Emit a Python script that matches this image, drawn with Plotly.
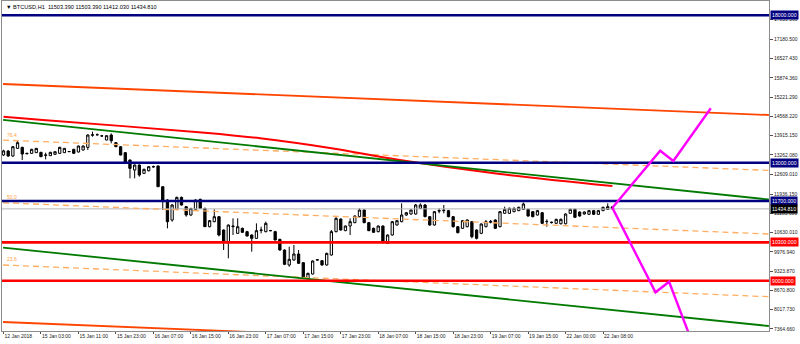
import plotly.graph_objects as go

# ---------------- data ----------------
bar_idx = list(range(131))

opens = [13260,13396,13226,13486,13520,13300,13317,13340,13351,13250,
         13238,13283,13317,13340,13373,13453,13362,13430,13520,13930,
         13945,13910,13769,13938,13679,13543,13340,13091,12752,12921,
         12639,12729,12860,12890,12187,11735,11057,11419,11825,11509,
         11227,11419,11758,11440,10831,11001,11170,10718,10289,10831,
         10605,10775,10662,10549,10436,10718,10662,10700,10662,10402,
         10040,9532,9701,9905,9611,9080,9227,9700,9679,9532,
         9871,10662,11091,10696,10854,10967,11170,11397,10967,10775,
         10662,10854,10266,10549,10888,11001,11227,11261,11261,11453,
         11566,11171,10888,11360,11374,11374,11171,10831,10775,10831,
         11001,10718,10605,10831,10980,11058,10831,11284,11284,11340,
         11374,11419,11419,11340,11227,11306,11001,10967,10944,10930,
         10930,11284,11419,11329,11261,11250,11374,11250,11374,11419,
         11503.39]
highs = [13440,13430,13560,13735,13540,13330,13470,13500,13370,13340,
         13370,13380,13540,13500,13390,13470,13580,13580,13960,14052,
         13990,13920,13930,13995,13700,13560,13360,13110,12940,12940,
         12800,12880,12900,12900,12200,11760,11600,11850,11850,11530,
         11460,11760,11780,11480,11060,11419,11190,10740,10900,11114,
         11114,10800,10690,10570,10944,10831,11001,10720,10690,10420,
         10060,10153,10210,10040,9630,9270,9690,9730,9700,9950,
         10718,11150,11110,10870,11114,11210,11453,11420,10990,10800,
         10870,10870,10570,11020,11050,11622,11330,11420,11600,11622,
         11600,11190,11360,11453,11566,11400,11190,10850,11060,11080,
         11020,10740,10944,11058,11058,11080,11360,11510,11480,11487,
         11510,11645,11440,11360,11400,11330,11080,11000,11100,11110,
         11280,11440,11440,11350,11350,11400,11400,11400,11510,11622,
         11503.39]
lows = [13230,13200,13200,13470,13091,13290,13300,13330,13190,13113,
        13230,13270,13300,13330,13360,13300,13350,13420,13430,13882,
        13920,13900,13760,13656,13530,13250,12990,12470,12470,12526,
        12620,12700,12830,12187,11396,10775,11000,11400,11550,11170,
        11200,11400,11430,10820,10810,10980,10500,10040,9758,10549,
        10590,10620,10500,9984,10420,10605,10640,10680,10370,10020,
        9530,9476,9680,9570,9100,9023,9210,9680,9510,9510,
        9850,10640,10700,10680,10549,10950,11150,10950,10680,10620,
        10640,10270,10250,10530,10870,10980,11200,11240,11240,11440,
        11150,10860,10870,11284,11284,11150,10800,10605,10760,10810,
        10436,10400,10580,10810,10944,10760,10810,11270,11270,11320,
        11360,11400,11170,11150,11210,10920,10831,10940,10930,10910,
        10910,11270,11130,11170,11240,11230,11230,11230,11360,11400,
        11412.03]
closes = [13400,13226,13543,13679,13294,13317,13453,13486,13204,13260,
          13351,13373,13520,13486,13380,13317,13566,13566,13938,13945,
          13950,13905,13916,13746,13543,13260,13000,12808,12921,12582,
          12775,12865,12865,12187,11735,11000,11566,11825,11566,11227,
          11452,11735,11452,10831,11035,11170,10549,10289,10888,10850,
          10831,10640,10515,10436,10696,10710,10944,10696,10380,10040,
          9555,9724,9905,9589,9114,9250,9668,9710,9532,9927,
          10662,11114,10718,10854,11001,11193,11397,10967,10696,10640,
          10854,10289,10549,11001,11035,11227,11306,11397,11566,11566,
          11171,10888,11340,11374,11390,11171,10831,10628,11035,11058,
          10492,10436,10922,11001,11010,10775,11340,11419,11453,11453,
          11487,11600,11193,11171,11374,10944,11010,10980,11080,11080,
          11261,11419,11148,11193,11329,11374,11250,11374,11487,11510,
          11434.81]

x_tick_idx = [0, 8, 16, 24, 32, 40, 48, 56, 64, 72, 80, 88, 96, 104, 112, 120, 128]
x_tick_text = ["12 Jan 2018", "15 Jan 03:00", "15 Jan 11:00", "15 Jan 23:00",
               "16 Jan 07:00", "16 Jan 15:00", "16 Jan 23:00", "17 Jan 07:00",
               "17 Jan 15:00", "17 Jan 23:00", "18 Jan 07:00", "18 Jan 15:00",
               "18 Jan 23:00", "19 Jan 07:00", "19 Jan 15:00", "22 Jan 00:00",
               "22 Jan 08:00"]

y_tick_vals = [17853.36, 17180.50, 16527.43, 15874.36, 15221.29, 14568.22,
               13915.15, 13262.08, 12609.01, 11936.15, 11283.08, 10630.01,
               9976.94, 9323.87, 8670.80, 8017.73, 7364.66]

# horizontal levels
level_vals = [18000, 13000, 11700, 10300, 9000]
level_colors = ["#000080", "#000080", "#000080", "#FF0000", "#FF0000"]
current_price = 11434.81

# trend lines: (bar index, price) endpoints
trend_x = [-0.1, 163.4]
orangered_upper = [15668, 14617]
orangered_lower = [7600, 6549]
green_upper = [14451, 11752]
green_lower = [10122, 7464]
fib_764 = [13766, 12739]
fib_500 = [11641, 10583]
fib_236 = [9532, 8457]
fib_labels = ["76.4", "50.0", "23.6"]
fib_label_vals = [13956, 11854, 9735]

# moving average (read points)
ma_idx = [0, 8.4, 43, 54.8, 69.7, 84.6, 106, 130]
ma_val = [14556, 14448, 14017, 13827, 13498, 13092, 12617, 12210]

# projection zigzags
zz_up_idx = [130, 140.2, 143.0, 151.0]
zz_up_val = [11470, 13407, 13058, 14844]
zz_dn_idx = [130, 139.2, 142.1, 148.7]
zz_dn_val = [11470, 8607, 8966, 6212]

header = "▼ BTCUSD,H1  11503.390 11503.390 11412.030 11434.810"

# ---------------- figure ----------------
fig = go.Figure()

# current price line (behind candles)
fig.add_trace(go.Scatter(x=[-5, 170], y=[current_price, current_price], mode="lines",
                         line=dict(color="#B4B4B4", width=1), hoverinfo="skip", showlegend=False))

fig.add_trace(go.Candlestick(
    x=bar_idx, open=opens, high=highs, low=lows, close=closes,
    increasing=dict(line=dict(color="#000000", width=1), fillcolor="#FFFFFF"),
    decreasing=dict(line=dict(color="#000000", width=1), fillcolor="#000000"),
    whiskerwidth=0, hoverinfo="skip", showlegend=False))

def line(xs, ys, color, width, dash="solid", shape="linear"):
    fig.add_trace(go.Scatter(x=xs, y=ys, mode="lines",
                             line=dict(color=color, width=width, dash=dash, shape=shape),
                             hoverinfo="skip", showlegend=False))

fib_color = "#FFAD60"
for vals in (fib_764, fib_500, fib_236):
    line(trend_x, vals, fib_color, 1.3, dash="6px,4px")

line(trend_x, orangered_upper, "#FF4500", 1.8)
line(trend_x, orangered_lower, "#FF4500", 1.8)
line(ma_idx, ma_val, "#FF0000", 2, shape="spline")
line(trend_x, green_upper, "#007A00", 1.8)
line(trend_x, green_lower, "#007A00", 1.8)

for v, c in zip(level_vals, level_colors):
    line([-5, 170], [v, v], c, 2.6)

line(zz_up_idx, zz_up_val, "#FF00FF", 2.4)
line(zz_dn_idx, zz_dn_val, "#FF00FF", 2.4)

# price boxes on the right scale
for v, c in zip(level_vals + [current_price], level_colors + ["#000000"]):
    fig.add_annotation(x=1, xref="paper", y=v, yref="y", text=f"{v:.3f}",
                       showarrow=False, xanchor="left", yanchor="middle",
                       bgcolor=c, borderpad=1, xshift=1,
                       font=dict(color="#FFFFFF", size=5.2, family="Liberation Sans"))

# fib labels
for t, v in zip(fib_labels, fib_label_vals):
    fig.add_annotation(x=0, xref="x", y=v, yref="y", text=t, showarrow=False,
                       xanchor="left", yanchor="middle", xshift=1,
                       font=dict(color="#FFA040", size=5, family="Liberation Sans"))

# header
fig.add_annotation(x=0, xref="paper", y=1, yref="paper", text=header, showarrow=False,
                   xanchor="left", yanchor="top", xshift=2, yshift=-1,
                   font=dict(color="#000000", size=5.6, family="Liberation Sans"))

fig.update_layout(
    width=800, height=344,
    margin=dict(l=2, r=31, t=1, b=13, autoexpand=False),
    paper_bgcolor="#FFFFFF", plot_bgcolor="#FFFFFF",
    showlegend=False,
    boxgap=0.3,
    xaxis=dict(range=[-0.32, 163.43], rangeslider=dict(visible=False),
               tickvals=x_tick_idx, ticktext=x_tick_text, tickangle=0,
               automargin=False,
               ticks="outside", ticklen=2, tickcolor="#505050",
               ticklabelposition="outside right",
               tickfont=dict(size=5, color="#202020", family="Liberation Sans"),
               showgrid=False, zeroline=False,
               showline=True, linecolor="#8C8C8C", linewidth=1, mirror=True),
    yaxis=dict(range=[7295, 18481.4], side="right", automargin=False,
               tickvals=y_tick_vals, ticktext=[f"{v:.3f}" for v in y_tick_vals],
               ticks="outside", ticklen=3, tickcolor="#505050",
               tickfont=dict(size=5, color="#202020", family="Liberation Sans"),
               showgrid=False, zeroline=False,
               showline=True, linecolor="#8C8C8C", linewidth=1, mirror=True),
)

fig.write_html("out.html")
